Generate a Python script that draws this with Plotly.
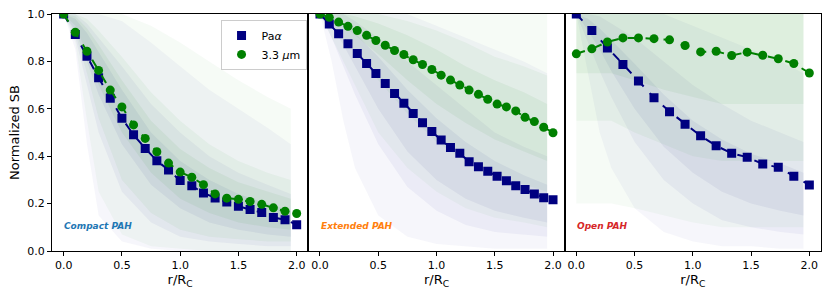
import plotly.graph_objects as go

# ---------------- data ----------------
x_compact = [round(0.1 * i, 3) for i in range(21)]
pa_compact = [1.0, 0.913, 0.822, 0.731, 0.644, 0.560, 0.490, 0.433, 0.381, 0.342, 0.297,
              0.275, 0.245, 0.224, 0.207, 0.189, 0.175, 0.162, 0.141, 0.132, 0.111]
pah_compact = [1.0, 0.923, 0.843, 0.762, 0.679, 0.608, 0.532, 0.475, 0.419, 0.371, 0.333,
               0.311, 0.280, 0.241, 0.223, 0.218, 0.209, 0.197, 0.182, 0.168, 0.158]

x_extended = [round(0.08 * i, 3) for i in range(26)]
pa_extended = [1.0, 0.958, 0.917, 0.875, 0.833, 0.791, 0.749, 0.707, 0.665, 0.623, 0.580,
               0.541, 0.504, 0.468, 0.437, 0.412, 0.377, 0.356, 0.336, 0.315, 0.296,
               0.275, 0.259, 0.241, 0.225, 0.216]
pah_extended = [1.0, 0.986, 0.966, 0.948, 0.930, 0.910, 0.888, 0.868, 0.846, 0.829, 0.807,
                0.787, 0.766, 0.742, 0.721, 0.700, 0.679, 0.661, 0.640, 0.620, 0.608,
                0.591, 0.564, 0.546, 0.522, 0.499]

x_open = [round(2.0 * i / 15, 4) for i in range(16)]
pa_open = [1.0, 0.930, 0.857, 0.787, 0.717, 0.647, 0.588, 0.535, 0.486, 0.444, 0.412,
           0.396, 0.367, 0.353, 0.315, 0.279]
pah_open = [0.832, 0.853, 0.882, 0.899, 0.899, 0.896, 0.891, 0.867, 0.840, 0.843, 0.825,
            0.839, 0.826, 0.811, 0.791, 0.751]

# spread of the individual faint profiles (envelopes)
band_x = [0, 0.1, 0.2, 0.3, 0.5, 0.75, 1.0, 1.25, 1.5, 1.75, 1.95]

compact_pa_bands = [
    ([1, 0.85, 0.45, 0.15, 0.04, 0.01, 0.0, 0.0, 0.0, 0.0, 0.0],
     [1, 1, 1, 1, 0.97, 0.88, 0.78, 0.68, 0.60, 0.52, 0.45]),
    ([1, 0.90, 0.70, 0.50, 0.25, 0.12, 0.06, 0.04, 0.03, 0.02, 0.02],
     [1, 1, 0.96, 0.90, 0.78, 0.62, 0.50, 0.40, 0.33, 0.28, 0.24]),
    ([1, 0.93, 0.80, 0.66, 0.45, 0.28, 0.18, 0.12, 0.09, 0.07, 0.06],
     [1, 0.98, 0.92, 0.84, 0.68, 0.50, 0.38, 0.30, 0.24, 0.20, 0.17]),
]
compact_pah_bands = [
    ([1, 0.88, 0.55, 0.25, 0.07, 0.02, 0.01, 0.0, 0.0, 0.0, 0.0],
     [1, 1, 1, 1, 1, 0.95, 0.88, 0.80, 0.72, 0.65, 0.60]),
    ([1, 0.92, 0.75, 0.56, 0.30, 0.16, 0.09, 0.06, 0.05, 0.04, 0.04],
     [1, 1, 0.98, 0.93, 0.82, 0.67, 0.55, 0.45, 0.38, 0.33, 0.30]),
    ([1, 0.95, 0.83, 0.70, 0.50, 0.33, 0.22, 0.16, 0.12, 0.10, 0.09],
     [1, 0.99, 0.94, 0.87, 0.72, 0.55, 0.43, 0.35, 0.29, 0.25, 0.22]),
]
extended_pa_bands = [
    ([1, 0.80, 0.55, 0.35, 0.15, 0.06, 0.03, 0.02, 0.01, 0.01, 0.01],
     [1, 1, 1, 1, 1, 1, 0.95, 0.90, 0.85, 0.80, 0.75]),
    ([1, 0.90, 0.78, 0.66, 0.45, 0.27, 0.17, 0.11, 0.08, 0.07, 0.06],
     [1, 1, 1, 0.97, 0.90, 0.80, 0.70, 0.60, 0.50, 0.44, 0.40]),
    ([1, 0.95, 0.87, 0.78, 0.60, 0.42, 0.30, 0.22, 0.17, 0.14, 0.12],
     [1, 0.99, 0.96, 0.92, 0.82, 0.68, 0.56, 0.46, 0.38, 0.32, 0.28]),
]
extended_pah_bands = [
    ([1, 0.90, 0.80, 0.70, 0.50, 0.35, 0.25, 0.18, 0.14, 0.12, 0.10],
     [1, 1, 1, 1, 1, 1, 1, 1, 1, 1, 1]),
    ([1, 0.96, 0.90, 0.84, 0.72, 0.58, 0.46, 0.38, 0.32, 0.28, 0.25],
     [1, 1, 1, 1, 1, 0.97, 0.93, 0.88, 0.82, 0.78, 0.74]),
    ([1, 0.98, 0.95, 0.91, 0.83, 0.72, 0.62, 0.54, 0.47, 0.42, 0.38],
     [1, 1, 1, 0.99, 0.96, 0.91, 0.85, 0.78, 0.72, 0.67, 0.62]),
]
open_pa_bands = [
    ([1, 0.75, 0.50, 0.35, 0.18, 0.08, 0.04, 0.02, 0.02, 0.01, 0.01],
     [1, 1, 1, 1, 1, 1, 0.95, 0.90, 0.85, 0.80, 0.75]),
    ([1, 0.88, 0.76, 0.65, 0.46, 0.30, 0.20, 0.13, 0.10, 0.08, 0.07],
     [1, 1, 0.99, 0.96, 0.90, 0.80, 0.70, 0.62, 0.55, 0.50, 0.46]),
    ([1, 0.93, 0.85, 0.76, 0.60, 0.44, 0.33, 0.25, 0.20, 0.17, 0.15],
     [1, 0.98, 0.94, 0.89, 0.79, 0.66, 0.55, 0.47, 0.41, 0.37, 0.33]),
]
open_pah_bands = [
    ([0.20, 0.20, 0.20, 0.20, 0.18, 0.15, 0.12, 0.10, 0.10, 0.10, 0.10],
     [1, 1, 1, 1, 1, 1, 1, 1, 1, 1, 1]),
    ([0.55, 0.55, 0.55, 0.55, 0.50, 0.45, 0.40, 0.38, 0.38, 0.38, 0.38],
     [1, 1, 1, 1, 1, 1, 1, 1, 1, 1, 1]),
    ([0.75, 0.75, 0.75, 0.75, 0.72, 0.68, 0.65, 0.62, 0.62, 0.62, 0.62],
     [1, 1, 1, 1, 1, 1, 1, 1, 1, 1, 1]),
]

panel_labels = ["Compact PAH", "Extended PAH", "Open PAH"]
label_colors = ["#1f77b4", "#ff7f0e", "#d62728"]
x_ticks = [0.0, 0.5, 1.0, 1.5, 2.0]
y_ticks = [0.0, 0.2, 0.4, 0.6, 0.8, 1.0]

# ---------------- figure ----------------
NAVY = "#000080"
GREEN = "#008000"
FONT = "DejaVu Sans"
BAND_ALPHA = [0.035, 0.045, 0.055]

panels = [
    (x_compact, pa_compact, pah_compact, compact_pa_bands, compact_pah_bands),
    (x_extended, pa_extended, pah_extended, extended_pa_bands, extended_pah_bands),
    (x_open, pa_open, pah_open, open_pa_bands, open_pah_bands),
]

fig = go.Figure()
for i, (xs, pa, pah, pa_b, pah_b) in enumerate(panels):
    xa = "x" if i == 0 else f"x{i+1}"
    ya = "y" if i == 0 else f"y{i+1}"
    for bands, rgb in ((pa_b, "0,0,128"), (pah_b, "0,128,0")):
        for k, (lo, hi) in enumerate(bands):
            fig.add_trace(go.Scatter(x=band_x, y=lo, mode="lines", line=dict(width=0),
                                     showlegend=False, hoverinfo="skip", xaxis=xa, yaxis=ya))
            fig.add_trace(go.Scatter(x=band_x, y=hi, mode="lines", line=dict(width=0),
                                     fill="tonexty", fillcolor=f"rgba({rgb},{BAND_ALPHA[k]})",
                                     showlegend=False, hoverinfo="skip", xaxis=xa, yaxis=ya))
    fig.add_trace(go.Scatter(x=xs, y=pa, mode="lines+markers", name="Pa<i>α</i>",
                             line=dict(color=NAVY, width=2, dash="dash"),
                             marker=dict(symbol="square", size=9, color=NAVY),
                             showlegend=False, xaxis=xa, yaxis=ya))
    fig.add_trace(go.Scatter(x=xs, y=pah, mode="lines+markers", name="3.3 <i>μ</i>m",
                             line=dict(color=GREEN, width=2, dash="dash"),
                             marker=dict(symbol="circle", size=9, color=GREEN),
                             showlegend=False, xaxis=xa, yaxis=ya))

# legend entries (markers only, as in the reference legend)
fig.add_trace(go.Scatter(x=[None], y=[None], mode="markers", name="Pa<i>α</i>",
                         marker=dict(symbol="square", size=9, color=NAVY)))
fig.add_trace(go.Scatter(x=[None], y=[None], mode="markers", name="3.3 <i>μ</i>m",
                         marker=dict(symbol="circle", size=9, color=GREEN)))

axis_common = dict(showline=True, linecolor="black", linewidth=1, mirror=True,
                   ticks="outside", ticklen=4, tickwidth=1, tickcolor="black",
                   showgrid=False, zeroline=False,
                   tickfont=dict(family=FONT, size=11, color="black"))
layout = dict(
    width=830, height=297,
    margin=dict(l=52, r=8, t=12, b=46),
    plot_bgcolor="white", paper_bgcolor="white",
    font=dict(family=FONT, color="black"),
    legend=dict(x=0.331, y=0.975, xanchor="right", yanchor="top", traceorder="normal",
                bgcolor="rgba(255,255,255,0.85)", bordercolor="#cccccc", borderwidth=1,
                font=dict(family=FONT, size=11), itemwidth=30, tracegroupgap=0),
    annotations=[],
)
domains = [[0, 1/3], [1/3, 2/3], [2/3, 1]]
for i in range(3):
    xk = "xaxis" if i == 0 else f"xaxis{i+1}"
    yk = "yaxis" if i == 0 else f"yaxis{i+1}"
    layout[xk] = dict(axis_common, domain=domains[i], range=[-0.1, 2.1],
                      tickvals=x_ticks, ticktext=[f"{v:.1f}" for v in x_ticks],
                      anchor="y" if i == 0 else f"y{i+1}",
                      title=dict(text="r/R<sub>C</sub>", font=dict(family=FONT, size=13), standoff=2))
    ydict = dict(axis_common, range=[0, 1], anchor="x" if i == 0 else f"x{i+1}",
                 tickvals=y_ticks, ticktext=[f"{v:.1f}" for v in y_ticks])
    if i == 0:
        ydict["title"] = dict(text="Normalized SB", font=dict(family=FONT, size=13), standoff=4)
    else:
        ydict["showticklabels"] = False
        ydict["ticks"] = ""
        ydict["matches"] = "y"
    layout[yk] = ydict
    layout["annotations"].append(dict(
        x=-0.01, y=0.105, xref="x" if i == 0 else f"x{i+1}", yref="y" if i == 0 else f"y{i+1}",
        xanchor="left", yanchor="middle", showarrow=False,
        text=f"<b><i>{panel_labels[i]}</i></b>",
        font=dict(family=FONT, size=9, color=label_colors[i])))

fig.update_layout(**layout)
fig.write_html("out.html", config={"displayModeBar": False},
               post_script="document.body.style.margin='0';")
